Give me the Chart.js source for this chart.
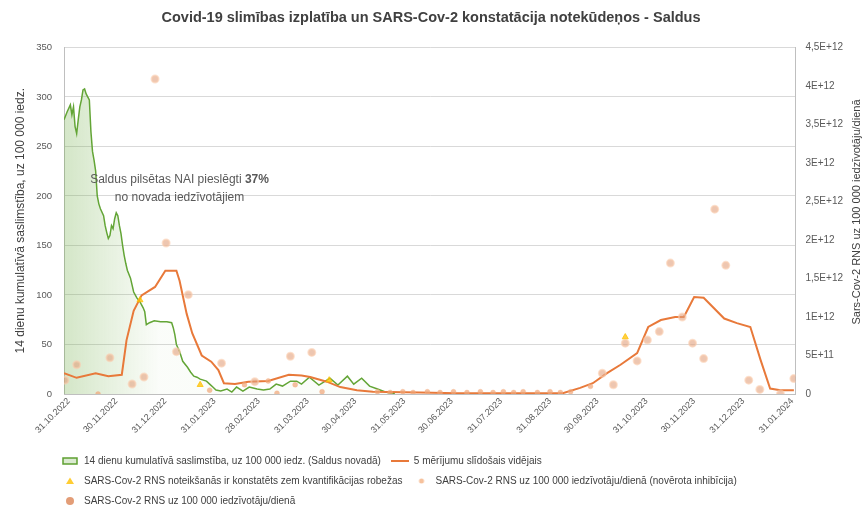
<!DOCTYPE html>
<html>
<head>
<meta charset="utf-8">
<script src="https://cdn.jsdelivr.net/npm/chart.js@4.4.1/dist/chart.umd.min.js"></script>
<style>
    html, body { margin: 0; padding: 0; background: #fff; }
    #wrap { width: 864px; height: 508px; }
</style>
</head>
<body>
<div id="wrap"><canvas id="myChart"></canvas></div>
<script>
        // x values are days counted from 31.10.2022
        var xTickLabels = ['31.10.2022', '30.11.2022', '31.12.2022', '31.01.2023', '28.02.2023', '31.03.2023',
            '30.04.2023', '31.05.2023', '30.06.2023', '31.07.2023', '31.08.2023', '30.09.2023',
            '31.10.2023', '30.11.2023', '31.12.2023', '31.01.2024'];
        var y2TickLabels = ['0', '5E+11', '1E+12', '1,5E+12', '2E+12', '2,5E+12', '3E+12', '3,5E+12', '4E+12', '4,5E+12'];

        // 14 dienu kumulatīvā saslimstība (left axis)
        var greenDays = [-3, -1, 1, 2, 3, 4, 5, 6, 7, 8, 9, 10, 11, 13, 14, 15, 16, 17, 18, 19, 20, 22, 23, 24, 25,
            26, 27, 28, 29, 30, 31, 32, 33, 34, 35, 36, 37, 39, 41, 43, 45, 47, 48, 49, 51, 54, 58, 62, 65, 66,
            67, 68, 70, 72, 75, 77, 79, 81, 83, 87, 89, 91, 93, 96, 100, 103, 106, 110, 114, 119, 123, 127, 131,
            135, 140, 144, 147, 152, 158, 165, 170, 176, 180, 185, 190, 195, 200, 206];
        var greenValues = [277, 285, 292, 282, 290, 270, 263, 277, 290, 297, 307, 308, 303, 297, 265, 245, 236, 225,
            200, 192, 187, 180, 170, 163, 157, 160, 170, 167, 177, 183, 180, 170, 162, 150, 140, 132, 125, 117,
            103, 97, 93, 87, 83, 70, 72, 74, 73, 73, 72, 67, 60, 50, 43, 33, 27, 22, 18, 17, 15, 13, 10, 7, 4,
            3, 5, 2, 7, 3, 7, 5, 4, 5, 10, 8, 13, 13, 10, 17, 9, 16, 9, 18, 10, 16, 8, 5, 2, 0];

        // 5 mērījumu slīdošais vidējais (right axis)
        var avgDays = [-3, 5, 17, 25, 33.5, 36.5, 41, 46, 54.5, 61, 68, 70, 74.5, 78, 84, 90, 94.5, 98, 105, 113.5,
            126, 139, 147, 152.5, 163, 171.5, 182, 192, 222, 245, 285, 312, 323, 331, 340, 348.5, 359, 366, 374,
            383, 388.5, 395, 401, 414, 422, 430.5, 437, 443, 449.5, 458];
        var avgValues = [0.27e12, 0.21e12, 0.27e12, 0.23e12, 0.25e12, 0.70e12, 1.08e12, 1.28e12, 1.39e12, 1.60e12,
            1.60e12, 1.47e12, 1.04e12, 0.79e12, 0.50e12, 0.42e12, 0.31e12, 0.14e12, 0.13e12, 0.16e12, 0.17e12,
            0.25e12, 0.24e12, 0.22e12, 0.16e12, 0.09e12, 0.05e12, 0.03e12, 0.02e12, 0.01e12, 0.01e12, 0.01e12,
            0.08e12, 0.14e12, 0.27e12, 0.38e12, 0.53e12, 0.87e12, 0.96e12, 1.0e12, 1.0e12, 1.26e12, 1.25e12,
            0.98e12, 0.92e12, 0.87e12, 0.44e12, 0.07e12, 0.05e12, 0.05e12];

        // zem kvantifikācijas robežas
        var belowDays = [45, 83, 164.5, 351.5];
        var belowValues = [1.22e12, 0.12e12, 0.18e12, 0.74e12];

        // novērota inhibīcija
        var inhibDays = [18.5, 89, 111, 126, 131.5, 143, 160, 195, 203, 211, 217.5, 226.5, 234.5, 243, 251.5, 260,
            268, 274.5, 281, 287, 296, 304, 310.5, 317, 329.5];
        var inhibValues = [0, 0.05e12, 0.12e12, 0.17e12, 0.01e12, 0.12e12, 0.03e12, 0.03e12, 0.02e12, 0.03e12,
            0.02e12, 0.03e12, 0.02e12, 0.03e12, 0.02e12, 0.03e12, 0.02e12, 0.03e12, 0.02e12, 0.03e12, 0.02e12,
            0.03e12, 0.02e12, 0.03e12, 0.1e12];

        // SARS-Cov-2 RNS uz 100 000 iedzīvotāju/dienā
        var rnaDays = [-2.4, 5, 26, 40, 47.5, 54.5, 61.5, 68, 75.5, 96.5, 117.5, 140, 153.5, 337, 344, 351.5, 359,
            365.5, 373, 380, 387.5, 394, 401, 408, 415, 429.5, 436.5, 449.5, 458];
        var rnaValues = [0.18e12, 0.38e12, 0.47e12, 0.13e12, 0.22e12, 4.09e12, 1.96e12, 0.55e12, 1.29e12, 0.40e12,
            0.16e12, 0.49e12, 0.54e12, 0.27e12, 0.12e12, 0.66e12, 0.43e12, 0.70e12, 0.81e12, 1.70e12, 1.0e12,
            0.66e12, 0.46e12, 2.40e12, 1.67e12, 0.18e12, 0.06e12, 0, 0.20e12];

        var dayZero = Date.UTC(2022, 9, 31);
        function dayOf(s) {
            var p = s.split('.');
            return Math.round((Date.UTC(+p[2], +p[1] - 1, +p[0]) - dayZero) / 864e5);
        }
        function pts(xs, ys) {
            return xs.map(function (x, i) { return { x: x, y: ys[i] }; });
        }
        var xTickDays = xTickLabels.map(dayOf);

        // small legend markers, drawn like the spreadsheet legend
        function makeIcon(draw) {
            var c = document.createElement('canvas');
            c.width = 18;
            c.height = 10;
            draw(c.getContext('2d'));
            return c;
        }
        var legendIcons = [
            makeIcon(function (g) {
                g.fillStyle = 'rgba(112,173,71,0.25)';
                g.fillRect(2, 2, 14, 6);
                g.strokeStyle = '#5fa132';
                g.lineWidth = 1.5;
                g.strokeRect(2, 2, 14, 6);
            }),
            makeIcon(function (g) {
                g.strokeStyle = '#e8793a';
                g.lineWidth = 2;
                g.beginPath(); g.moveTo(0, 5); g.lineTo(18, 5); g.stroke();
            }),
            makeIcon(function (g) {
                g.fillStyle = 'rgba(255,192,0,0.8)';
                g.beginPath(); g.moveTo(9, 1.5); g.lineTo(13, 8); g.lineTo(5, 8); g.closePath(); g.fill();
            }),
            makeIcon(function (g) {
                g.fillStyle = 'rgba(244,177,131,0.8)';
                g.beginPath(); g.arc(9, 5, 2.5, 0, Math.PI * 2); g.fill();
            }),
            makeIcon(function (g) {
                g.fillStyle = 'rgba(222,140,95,0.85)';
                g.beginPath(); g.arc(9, 5, 4, 0, Math.PI * 2); g.fill();
            })
        ];

        Chart.defaults.font.family = '"Liberation Sans", Arial, sans-serif';
        Chart.defaults.color = '#595959';

        var textPlugin = {
            id: 'texts',
            afterLayout: function (chart) {
                chart.legend.left += 42;
                chart.legend.top += 8;
                chart.legend.bottom += 8;
            },
            afterDraw: function (chart) {
                var c = chart.ctx;
                var sx = chart.scales.x, sy = chart.scales.y;
                var cx = sx.getPixelForValue(70);
                c.save();
                c.fillStyle = '#595959';
                c.textBaseline = 'middle';
                c.font = '12px "Liberation Sans"';
                var a = 'Saldus pilsētas NAI pieslēgti ';
                var wa = c.measureText(a).width;
                c.font = 'bold 12px "Liberation Sans"';
                var wb = c.measureText('37%').width;
                var y1 = sy.getPixelForValue(216);
                c.textAlign = 'left';
                c.font = '12px "Liberation Sans"';
                c.fillText(a, cx - (wa + wb) / 2, y1);
                c.font = 'bold 12px "Liberation Sans"';
                c.fillText('37%', cx - (wa + wb) / 2 + wa, y1);
                c.font = '12px "Liberation Sans"';
                c.textAlign = 'center';
                c.fillText('no novada iedzīvotājiem', cx, sy.getPixelForValue(198));

                c.translate(857, 212);
                c.rotate(-Math.PI / 2);
                c.font = '11px "Liberation Sans"';
                c.fillStyle = '#404040';
                c.fillText('Sars-Cov-2 RNS uz 100 000 iedzīvotāju/dienā', 0, 0);
                c.restore();
            }
        };

        var ctx = document.getElementById('myChart').getContext('2d');
        var chart = new Chart(ctx, {
            type: 'line',
            data: {
                datasets: [
                    {
                        label: '14 dienu kumulatīvā saslimstība, uz 100 000 iedz. (Saldus novadā)',
                        data: pts(greenDays, greenValues),
                        yAxisID: 'y',
                        borderColor: '#63a536',
                        borderWidth: 1.5,
                        pointRadius: 0,
                        fill: 'origin',
                        backgroundColor: function (c) {
                            var a = c.chart.chartArea;
                            if (!a) return 'rgba(112,173,71,0.2)';
                            var g = c.chart.ctx.createLinearGradient(a.left, 0, a.left + 95, 0);
                            g.addColorStop(0, 'rgba(112,173,71,0.30)');
                            g.addColorStop(1, 'rgba(112,173,71,0.03)');
                            return g;
                        },
                        tension: 0,
                        order: 5
                    },
                    {
                        label: '5 mērījumu slīdošais vidējais',
                        data: pts(avgDays, avgValues),
                        yAxisID: 'y2',
                        borderColor: '#e8793a',
                        backgroundColor: '#e8793a',
                        borderWidth: 2,
                        pointRadius: 0,
                        fill: false,
                        order: 4
                    },
                    {
                        label: 'SARS-Cov-2 RNS noteikšanās ir konstatēts zem kvantifikācijas robežas',
                        data: pts(belowDays, belowValues),
                        yAxisID: 'y2',
                        showLine: false,
                        pointStyle: 'triangle',
                        pointRadius: 3.5,
                        backgroundColor: 'rgba(255,192,0,0.75)',
                        borderColor: 'rgba(255,192,0,0.75)',
                        order: 1
                    },
                    {
                        label: 'SARS-Cov-2 RNS uz 100 000 iedzīvotāju/dienā (novērota inhibīcija)',
                        data: pts(inhibDays, inhibValues),
                        yAxisID: 'y2',
                        showLine: false,
                        pointStyle: 'circle',
                        pointRadius: 2.5,
                        backgroundColor: 'rgba(240,165,120,0.7)',
                        borderColor: 'rgba(244,177,131,0.3)',
                        borderWidth: 1,
                        order: 2
                    },
                    {
                        label: 'SARS-Cov-2 RNS uz 100 000 iedzīvotāju/dienā',
                        data: pts(rnaDays, rnaValues),
                        yAxisID: 'y2',
                        showLine: false,
                        pointStyle: 'circle',
                        pointRadius: 3.5,
                        backgroundColor: 'rgba(225,160,125,0.6)',
                        borderColor: 'rgba(250,205,175,0.6)',
                        borderWidth: 2,
                        order: 3
                    }
                ]
            },
            options: {
                responsive: true,
                maintainAspectRatio: false,
                animation: false,
                layout: { padding: { left: 9, right: 11, top: 0, bottom: 0 } },
                plugins: {
                    title: {
                        display: true,
                        text: 'Covid-19 slimības izplatība un SARS-Cov-2 konstatācija notekūdeņos - Saldus',
                        color: '#404040',
                        font: { size: 14.5, weight: 'bold' },
                        padding: { top: 9, bottom: 21 }
                    },
                    legend: {
                        position: 'bottom',
                        align: 'start',
                        labels: {
                            usePointStyle: true,
                            pointStyleWidth: 18,
                            boxHeight: 10,
                            padding: 10,
                            color: '#404040',
                            font: { size: 10 },
                            sort: function (a, b) { return a.datasetIndex - b.datasetIndex; },
                            generateLabels: function (chart) {
                                var items = Chart.defaults.plugins.legend.labels.generateLabels(chart);
                                items.forEach(function (it) { it.pointStyle = legendIcons[it.datasetIndex]; });
                                return items;
                            }
                        }
                    },
                    tooltip: { enabled: false }
                },
                scales: {
                    x: {
                        type: 'linear',
                        min: -3,
                        max: 459,
                        afterBuildTicks: function (scale) {
                            scale.ticks = xTickDays.map(function (d) { return { value: d }; });
                        },
                        afterFit: function (scale) { scale.height = 44; },
                        ticks: {
                            autoSkip: false,
                            minRotation: 45,
                            maxRotation: 45,
                            padding: 2,
                            font: { size: 9 },
                            color: '#595959',
                            callback: function (value, index) { return xTickLabels[index]; }
                        },
                        grid: { display: false, drawTicks: false },
                        border: { color: '#bfbfbf' }
                    },
                    y: {
                        position: 'left',
                        min: 0,
                        max: 350,
                        afterFit: function (scale) { scale.width = 55; },
                        ticks: { stepSize: 50, font: { size: 9.5 }, color: '#595959', padding: 12 },
                        grid: { color: '#d9d9d9', drawTicks: false },
                        border: { color: '#bfbfbf' },
                        title: {
                            display: true,
                            text: '14 dienu kumulatīvā saslimstība, uz 100 000 iedz.',
                            color: '#404040',
                            font: { size: 12 }
                        }
                    },
                    y2: {
                        position: 'right',
                        min: 0,
                        max: 4.5e12,
                        ticks: {
                            stepSize: 5e11,
                            font: { size: 10 },
                            color: '#595959',
                            padding: 10,
                            callback: function (value, index) { return y2TickLabels[index]; }
                        },
                        grid: { display: false, drawTicks: false },
                        border: { color: '#bfbfbf' }
                    }
                }
            },
            plugins: [textPlugin]
        });
</script>
</body>
</html>
